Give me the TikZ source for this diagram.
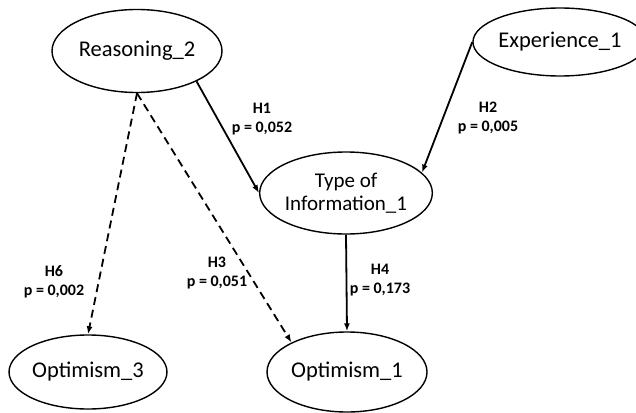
\documentclass[tikz,border=0pt]{standalone}
\usepackage{fontspec}
\setmainfont{Carlito}
\usetikzlibrary{shapes.geometric,arrows.meta}
\newcommand{\lbl}{\fontsize{16}{19}\selectfont\bfseries}

\begin{document}
\begin{tikzpicture}[x=1pt, y=-1pt,
    construct/.style={draw, ellipse, line width=1.4pt, inner sep=0pt, font=\fontsize{22.5}{23}\selectfont, align=center},
    hyp/.style={align=center, font=\lbl},
    path/.style={line width=1.8pt, -{Latex[length=8pt,width=6pt]}},
    weak/.style={path, dash pattern=on 8pt off 5pt}]
    \useasboundingbox (0,0) rectangle (636,412);

    % Constructs
    \node[construct, minimum width=170pt, minimum height=83pt] (reason) at (137,51) {Reasoning\_2};
    \node[construct, minimum width=154pt, minimum height=68pt] (exper) at (560,42) {Experience\_1};
    \node[construct, minimum width=168pt, minimum height=82pt, font=\fontsize{21}{23}\selectfont] (typeinfo) at (346,193) {Type of\\Information\_1};
    \node[construct, minimum width=160pt, minimum height=80pt] (opt1) at (347,372) {Optimism\_1};
    \node[construct, minimum width=152pt, minimum height=74pt] (opt3) at (88,372) {Optimism\_3};

    % Hypotheses
    \draw[path] (reason.-27) -- (typeinfo.180);
    \draw[path] (exper.180) -- (typeinfo.15);
    \draw[path] (typeinfo.south) -- (opt1.north);
    \draw[weak] (reason.south) -- (opt3.north);
    \draw[weak] (reason.south) -- (opt1.152);

    \node[hyp] (h1) at (262,119) {H1\\p = 0,052};
    \node[hyp] (h2) at (488,118) {H2\\p = 0,005};
    \node[hyp] (h4) at (380,280) {H4\\p = 0,173};
    \node[hyp] (h6) at (54,282) {H6\\p = 0,002};
    \node[hyp] (h3) at (217,273) {H3\\p = 0,051};

\end{tikzpicture}
\end{document}
